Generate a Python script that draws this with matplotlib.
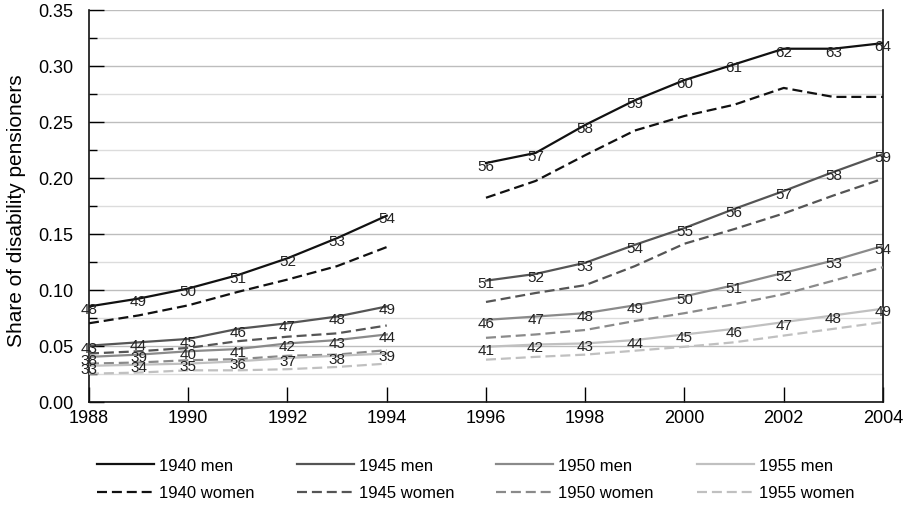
import numpy as np
import matplotlib
matplotlib.use("Agg")
import matplotlib.pyplot as plt
from matplotlib.ticker import MultipleLocator, FormatStrFormatter

plt.rcParams['font.family'] = ['Liberation Sans', 'DejaVu Sans']

years_a = [1988, 1989, 1990, 1991, 1992, 1993, 1994]
years_b = [1996, 1997, 1998, 1999, 2000, 2001, 2002, 2003, 2004]
cohorts = [1940, 1945, 1950, 1955]

# share of disability pensioners
men_a = {
    1940: [0.085, 0.092, 0.101, 0.113, 0.128, 0.146, 0.166],
    1945: [0.050, 0.053, 0.056, 0.065, 0.070, 0.076, 0.085],
    1950: [0.040, 0.042, 0.045, 0.047, 0.052, 0.055, 0.060],
    1955: [0.032, 0.033, 0.034, 0.036, 0.039, 0.041, 0.043],
}
women_a = {
    1940: [0.070, 0.077, 0.086, 0.098, 0.109, 0.121, 0.138],
    1945: [0.043, 0.045, 0.048, 0.054, 0.058, 0.061, 0.068],
    1950: [0.034, 0.035, 0.037, 0.038, 0.041, 0.042, 0.046],
    1955: [0.025, 0.026, 0.028, 0.028, 0.029, 0.031, 0.034],
}
men_b = {
    1940: [0.213, 0.222, 0.247, 0.269, 0.287, 0.301, 0.315, 0.315, 0.320],
    1945: [0.108, 0.114, 0.124, 0.140, 0.155, 0.172, 0.188, 0.205, 0.221],
    1950: [0.073, 0.076, 0.079, 0.086, 0.094, 0.104, 0.115, 0.126, 0.139],
    1955: [0.049, 0.051, 0.052, 0.055, 0.060, 0.065, 0.071, 0.077, 0.083],
}
women_b = {
    1940: [0.182, 0.197, 0.220, 0.242, 0.255, 0.265, 0.280, 0.272, 0.272],
    1945: [0.089, 0.097, 0.104, 0.121, 0.141, 0.154, 0.168, 0.184, 0.199],
    1950: [0.057, 0.060, 0.064, 0.072, 0.079, 0.087, 0.096, 0.108, 0.120],
    1955: [0.0375, 0.040, 0.042, 0.0455, 0.049, 0.053, 0.059, 0.065, 0.071],
}

colors = {1940: '#111111', 1945: '#555555', 1950: '#8a8a8a', 1955: '#c0c0c0'}
dash = (4.5, 2.2)

fig = plt.figure(figsize=(9.1, 5.1), dpi=100)
ax = fig.add_axes([0.0978, 0.2104, 0.8725, 0.769])

legend_x = [97, 297, 496, 697]
for i, c in enumerate(cohorts):
    lm, = ax.plot(years_a, men_a[c], color=colors[c], lw=1.6, zorder=3)
    ax.plot(years_b, men_b[c], color=colors[c], lw=1.6, zorder=3)
    lw_, = ax.plot(years_a, women_a[c], color=colors[c], lw=1.6, dashes=dash, zorder=3)
    ax.plot(years_b, women_b[c], color=colors[c], lw=1.6, dashes=dash, zorder=3)
    # age labels on the men lines
    for yrs, vals in ((years_a, men_a[c]), (years_b, men_b[c])):
        for yr, v in zip(yrs, vals):
            ax.annotate(str(yr - c), (yr, v), xytext=(0, -2), textcoords='offset points',
                        ha='center', va='center', fontsize=11, color='#222222', zorder=4)
    leg = fig.legend([lm, lw_], ['%d men' % c, '%d women' % c], loc='upper left',
                     bbox_to_anchor=(legend_x[i] / 910, 0.100), frameon=False, fontsize=12,
                     handlelength=3.4, handletextpad=0.3, labelspacing=0.75,
                     borderaxespad=0, borderpad=0)

ax.set_xlim(1988, 2004)
ax.set_ylim(0, 0.35)
ax.set_xticks(range(1988, 2005, 2))
ax.yaxis.set_major_locator(MultipleLocator(0.05))
ax.yaxis.set_minor_locator(MultipleLocator(0.025))
ax.yaxis.set_major_formatter(FormatStrFormatter('%.2f'))
ax.tick_params(axis='both', which='major', direction='in', length=11, width=1, labelsize=13)
ax.tick_params(axis='y', which='major', pad=11)
ax.tick_params(axis='x', which='major', pad=5)
ax.tick_params(axis='y', which='minor', direction='in', length=6, width=1)
ax.grid(axis='y', which='major', color='#bdbdbd', lw=1, zorder=0)
ax.grid(axis='y', which='minor', color='#dcdcdc', lw=1, zorder=0)
ax.spines['top'].set_visible(False)
for s in ('left', 'bottom', 'right'):
    ax.spines[s].set_linewidth(1.2)
    ax.spines[s].set_color('#111111')
ax.set_ylabel('Share of disability pensioners', fontsize=15)
ax.yaxis.set_label_coords(-0.079, 0.49)

fig.savefig('out.png', dpi=100)
